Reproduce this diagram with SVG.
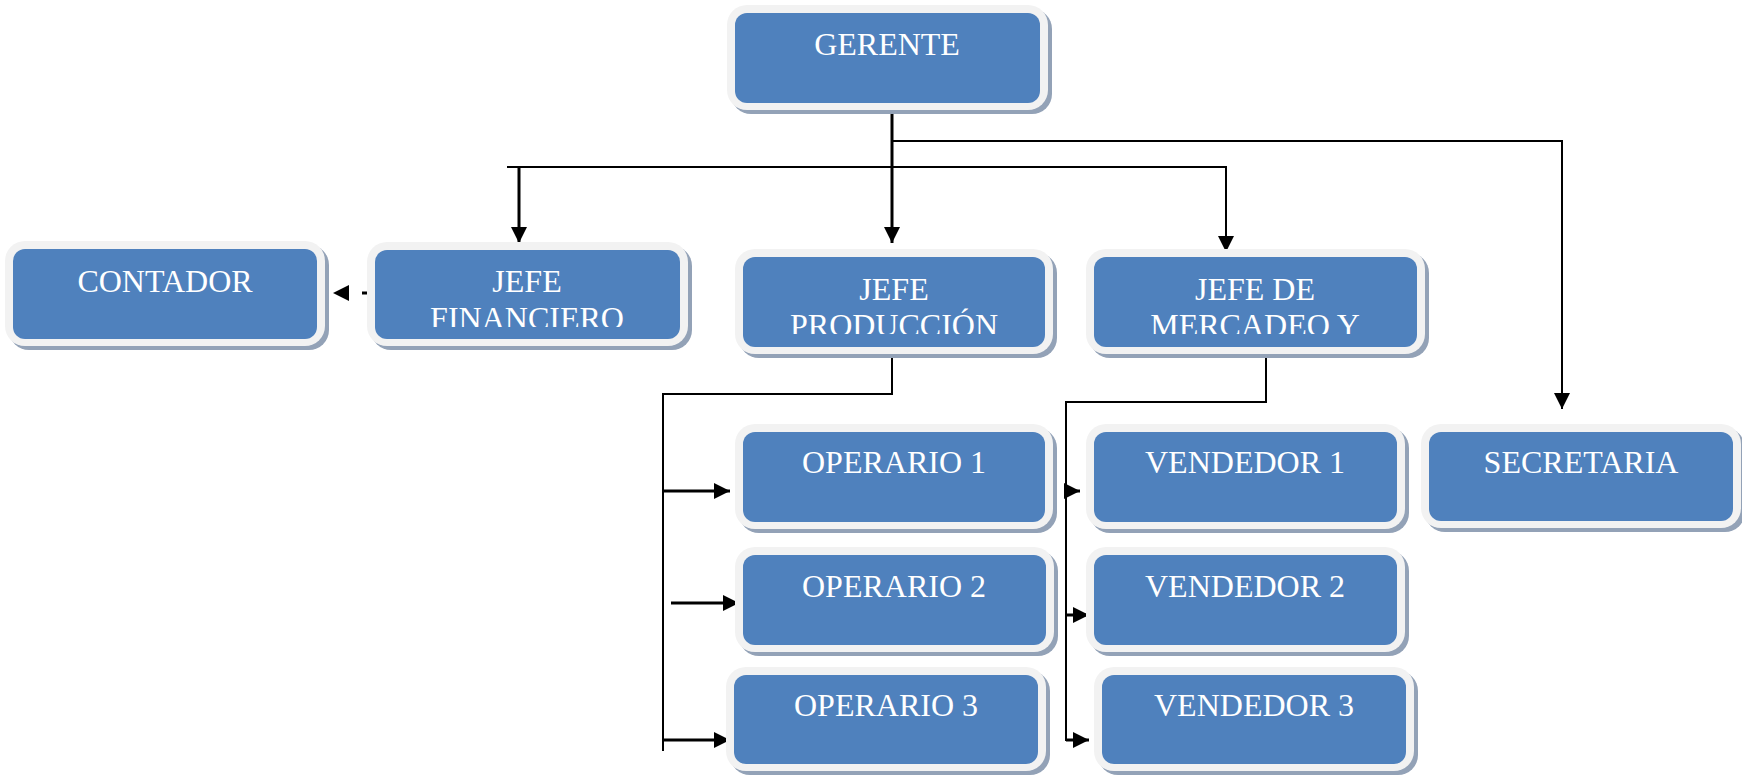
<svg xmlns="http://www.w3.org/2000/svg" width="1742" height="775" viewBox="0 0 1742 775">
  <style>
    .shadow { fill: #93a2b7; }
    .frame { fill: #f2f2f2; }
    .box { fill: #4f81bd; }
    .label { font-family: "Liberation Serif", "Times New Roman", serif; font-size: 32px; fill: #ffffff; text-anchor: middle; }
    .wire { fill: none; stroke: #000000; stroke-width: 2; }
    .wire-bold { fill: none; stroke: #000000; stroke-width: 3; }
  </style>
  <defs>
    <marker id="arrow" viewBox="0 0 16 16" refX="16" refY="8" markerWidth="16" markerHeight="16" orient="auto" markerUnits="userSpaceOnUse">
      <path d="M0,0 L16,8 L0,16 Z" fill="#000000"/>
    </marker>
    <clipPath id="clip-fin"><rect x="375" y="250" width="305" height="77"/></clipPath>
    <clipPath id="clip-prod"><rect x="743" y="257" width="302" height="77"/></clipPath>
    <clipPath id="clip-merc"><rect x="1094" y="257" width="323" height="77"/></clipPath>
  </defs>

  <rect width="1742" height="775" fill="#ffffff"/>

  <!-- connectors -->
  <g id="connectors">
    <path class="wire-bold" d="M892,107 V243" marker-end="url(#arrow)"/>
    <path class="wire" d="M892,141 H1562 V409" marker-end="url(#arrow)"/>
    <path class="wire" d="M507,167 H1226 V252" marker-end="url(#arrow)"/>
    <path class="wire-bold" d="M519,167 V243" marker-end="url(#arrow)"/>
    <path class="wire-bold" d="M373,293 H333" stroke-dasharray="11 13" marker-end="url(#arrow)"/>

    <path class="wire" d="M892,356 V394 H663 V751"/>
    <path class="wire-bold" d="M663,491 H730" marker-end="url(#arrow)"/>
    <path class="wire-bold" d="M671,603 H739" marker-end="url(#arrow)"/>
    <path class="wire-bold" d="M663,740 H730" marker-end="url(#arrow)"/>

    <path class="wire" d="M1266,356 V402 H1066 V741"/>
    <path class="wire-bold" d="M1066,491 H1080" marker-end="url(#arrow)"/>
    <path class="wire-bold" d="M1066,615 H1089" marker-end="url(#arrow)"/>
    <path class="wire-bold" d="M1066,740 H1089" marker-end="url(#arrow)"/>
  </g>

  <!-- nodes: shadow, light frame, blue face, label -->
  <g id="gerente">
    <rect class="shadow" x="731" y="9" width="321" height="105" rx="20"/>
    <rect class="frame" x="727" y="5" width="321" height="105" rx="20"/>
    <rect class="box" x="735" y="13" width="305" height="90" rx="12"/>
    <text class="label" x="887" y="55">GERENTE</text>
  </g>

  <g id="contador">
    <rect class="shadow" x="9" y="245" width="320" height="105" rx="20"/>
    <rect class="frame" x="5" y="241" width="320" height="105" rx="20"/>
    <rect class="box" x="13" y="249" width="304" height="90" rx="12"/>
    <text class="label" x="165" y="292">CONTADOR</text>
  </g>

  <g id="jefe-financiero">
    <rect class="shadow" x="371" y="246" width="321" height="104" rx="20"/>
    <rect class="frame" x="367" y="242" width="321" height="104" rx="20"/>
    <rect class="box" x="375" y="250" width="305" height="89" rx="12"/>
    <g clip-path="url(#clip-fin)">
      <text class="label" x="527" y="292">JEFE</text>
      <text class="label" x="527" y="329">FINANCIERO</text>
    </g>
  </g>

  <g id="jefe-produccion">
    <rect class="shadow" x="739" y="253" width="318" height="105" rx="20"/>
    <rect class="frame" x="735" y="249" width="318" height="105" rx="20"/>
    <rect class="box" x="743" y="257" width="302" height="90" rx="12"/>
    <g clip-path="url(#clip-prod)">
      <text class="label" x="894" y="300">JEFE</text>
      <text class="label" x="894" y="336">PRODUCCIÓN</text>
    </g>
  </g>

  <g id="jefe-mercadeo">
    <rect class="shadow" x="1090" y="253" width="339" height="105" rx="20"/>
    <rect class="frame" x="1086" y="249" width="339" height="105" rx="20"/>
    <rect class="box" x="1094" y="257" width="323" height="90" rx="12"/>
    <g clip-path="url(#clip-merc)">
      <text class="label" x="1255" y="300">JEFE DE</text>
      <text class="label" x="1255" y="336">MERCADEO Y</text>
    </g>
  </g>

  <g id="operario-1">
    <rect class="shadow" x="739" y="428" width="318" height="105" rx="20"/>
    <rect class="frame" x="735" y="424" width="318" height="105" rx="20"/>
    <rect class="box" x="743" y="432" width="302" height="90" rx="12"/>
    <text class="label" x="894" y="473">OPERARIO 1</text>
  </g>

  <g id="operario-2">
    <rect class="shadow" x="739" y="551" width="319" height="105" rx="20"/>
    <rect class="frame" x="735" y="547" width="319" height="105" rx="20"/>
    <rect class="box" x="743" y="555" width="303" height="90" rx="12"/>
    <text class="label" x="894" y="597">OPERARIO 2</text>
  </g>

  <g id="operario-3">
    <rect class="shadow" x="730" y="671" width="320" height="104" rx="20"/>
    <rect class="frame" x="726" y="667" width="320" height="104" rx="20"/>
    <rect class="box" x="734" y="675" width="304" height="89" rx="12"/>
    <text class="label" x="886" y="716">OPERARIO 3</text>
  </g>

  <g id="vendedor-1">
    <rect class="shadow" x="1090" y="428" width="319" height="105" rx="20"/>
    <rect class="frame" x="1086" y="424" width="319" height="105" rx="20"/>
    <rect class="box" x="1094" y="432" width="303" height="90" rx="12"/>
    <text class="label" x="1245" y="473">VENDEDOR 1</text>
  </g>

  <g id="vendedor-2">
    <rect class="shadow" x="1090" y="551" width="319" height="105" rx="20"/>
    <rect class="frame" x="1086" y="547" width="319" height="105" rx="20"/>
    <rect class="box" x="1094" y="555" width="303" height="90" rx="12"/>
    <text class="label" x="1245" y="597">VENDEDOR 2</text>
  </g>

  <g id="vendedor-3">
    <rect class="shadow" x="1098" y="671" width="320" height="104" rx="20"/>
    <rect class="frame" x="1094" y="667" width="320" height="104" rx="20"/>
    <rect class="box" x="1102" y="675" width="304" height="89" rx="12"/>
    <text class="label" x="1254" y="716">VENDEDOR 3</text>
  </g>

  <g id="secretaria">
    <rect class="shadow" x="1425" y="428" width="320" height="104" rx="20"/>
    <rect class="frame" x="1421" y="424" width="320" height="104" rx="20"/>
    <rect class="box" x="1429" y="432" width="304" height="89" rx="12"/>
    <text class="label" x="1581" y="473">SECRETARIA</text>
  </g>
</svg>
